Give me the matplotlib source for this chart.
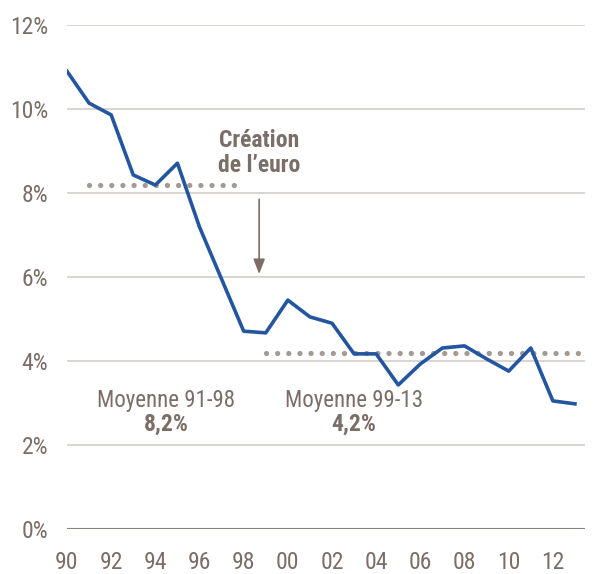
import matplotlib
matplotlib.use("Agg")
import matplotlib.pyplot as plt
from matplotlib import font_manager

# ── Data ──────────────────────────────────────────────────────────────────────
years = list(range(1990, 2014))
rates = [10.9, 10.14, 9.86, 8.43, 8.19, 8.71, 7.19, 5.95, 4.71, 4.67,
         5.45, 5.05, 4.9, 4.17, 4.17, 3.43, 3.93, 4.31, 4.36, 4.05,
         3.76, 4.31, 3.05, 2.98]

avg_periods = [(1991, 1998), (1999, 2013.4)]
avg_values = [8.2, 4.2]
avg_labels = ["Moyenne 91-98", "Moyenne 99-13"]
avg_texts = ["8,2%", "4,2%"]

yticks = [0, 2, 4, 6, 8, 10, 12]
xticks = list(range(1990, 2013, 2))
xtick_labels = [f"{y % 100:02d}" for y in xticks]

# ── Style ─────────────────────────────────────────────────────────────────────
BLUE = "#2456a0"
TXT = "#7a6e66"
DOTS = "#a39a93"
GRID = "#d6d1cc"

# narrowest family that is actually installed
installed = {f.name for f in font_manager.fontManager.ttflist}
for fam in ["Roboto Condensed", "Liberation Sans Narrow", "Open Sans Condensed",
            "Roboto", "Liberation Sans"]:
    if fam in installed:
        break
plt.rcParams["font.family"] = [fam, "DejaVu Sans"]

fig = plt.figure(figsize=(5.95, 5.74), dpi=100)
ax = fig.add_axes([0.1126, 0.0784, 0.8704, 0.878])

for y in yticks[1:]:
    ax.axhline(y, color=GRID, lw=1.3, zorder=1)
ax.axhline(0, color="#8c827b", lw=1.5, zorder=1)

for (x0, x1), v in zip(avg_periods, avg_values):
    ax.plot([x0, x1], [v, v], color=DOTS, lw=3.8,
            linestyle=(0, (0.01, 2.1)), dash_capstyle="round", zorder=2)

ax.plot(years, rates, color=BLUE, lw=2.6, zorder=3)

ax.text(1998.7, 8.95, "Création\nde l’euro", ha="center", va="center",
        fontsize=17, fontweight="bold", color=TXT, linespacing=1.12)
ax.annotate("", xy=(1998.7, 6.07), xytext=(1998.7, 7.85),
            arrowprops=dict(arrowstyle="-|>,head_length=0.9,head_width=0.35",
                            color=TXT, lw=1.2, shrinkA=0, shrinkB=0))

for x, lab, val in zip([1994.5, 2003.0], avg_labels, avg_texts):
    ax.text(x, 3.07, lab, ha="center", va="center", fontsize=16.5, color=TXT)
    ax.text(x, 2.5, val, ha="center", va="center", fontsize=17,
            fontweight="bold", color=TXT)

ax.set_xlim(1990, 2013.45)
ax.set_ylim(0, 12)
ax.set_yticks(yticks)
ax.set_yticklabels([f"{v}%" for v in yticks])
ax.set_xticks(xticks)
ax.set_xticklabels(xtick_labels)
ax.tick_params(length=0, labelsize=17, colors=TXT)
ax.tick_params(axis="y", pad=13.5)
ax.tick_params(axis="x", pad=16)
for s in ax.spines.values():
    s.set_visible(False)

fig.savefig("out.png", dpi=100, facecolor="white")
